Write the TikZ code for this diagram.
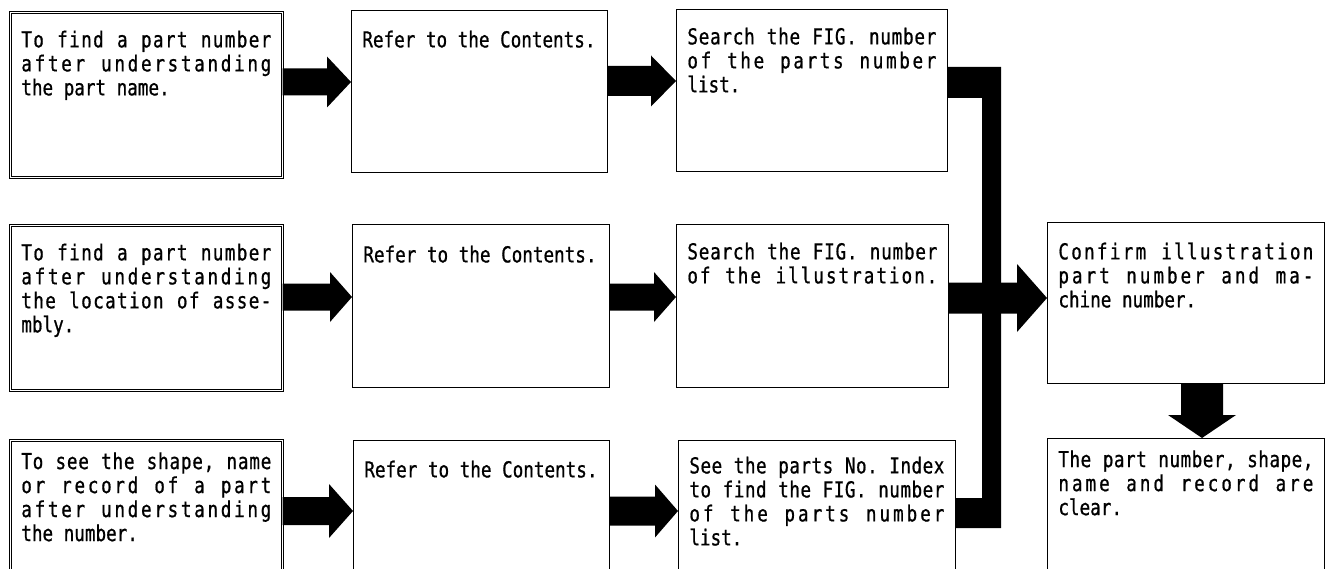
\documentclass[tikz,border=0pt]{standalone}
\usepackage{fontspec}
\newfontfamily\gfont[FakeStretch=0.8,FakeBold=0.8]{DejaVu Sans Mono}
\usetikzlibrary{calc}
\tikzset{
  flowbox/.style={draw, line width=0.8bp, inner xsep=11bp, inner ysep=12bp, anchor=north west, fill=white},
  dblbox/.style={flowbox, double, double distance=1.6bp, line width=0.7bp},
  fat/.style={fill=black},
}
\ExplSyntaxOn
\NewDocumentCommand\spr{m}{\tl_map_inline:nn {#1} {##1\hfill}\unskip}
\ExplSyntaxOff
% box text: #1 text width, #2 text height, #3 justify width, #4 lines
\newcommand\bt[4]{\parbox[t][#2bp][t]{#1bp}{\gfont\fontsize{22bp}{24bp}\selectfont\def\jw{#3bp}#4}}
% natural lines (first with strut height #1) and justified lines
\newcommand\Fl[2]{\hbox to \jw{\rule{0pt}{#1bp}#2\hfil}}
\newcommand\Ln[1]{\hbox to \jw{#1\hfil}}
\newcommand\FJ[2]{\hbox to \jw{\rule{0pt}{#1bp}\spr{#2}}}
\newcommand\J[1]{\hbox to \jw{\spr{#1}}}
% fat horizontal arrow: from, to, y, shaft half, head half, head length
\newcommand\harr[6]{%
  \coordinate (hy) at (0,#3);
  \path (#1.east |- hy) coordinate (s) (#2.west |- hy) coordinate (t);
  \fill[fat] ($(s)+(0,-#4)$) -- ($(t)+(-#6,-#4)$) -- ($(t)+(-#6,-#5)$) -- (t)
    -- ($(t)+(-#6,#5)$) -- ($(t)+(-#6,#4)$) -- ($(s)+(0,#4)$) -- cycle;}
\begin{document}
\begin{tikzpicture}[x=1bp,y=-1bp]
\useasboundingbox (0,0) rectangle (1333,569);
\clip (0,0) rectangle (1333,569);
\fill[white] (0,0) rectangle (1333,569);

% row 1
\node[dblbox] (A1) at (10,12) {\bt{255}{141}{250}{%
  \FJ{23}{To~find~a~part~number}%
  \J{after~understanding}%
  \Ln{the part name.}}};
\node[flowbox] (B1) at (351,10) {\bt{234}{138}{234}{%
  \Fl{25}{Refer to the Contents.}}};
\node[flowbox] (C1) at (676,9) {\bt{257}{138}{249}{%
  \FJ{23}{Search~the~FIG.~number}%
  \J{of~the~parts~number}%
  \Ln{list.}}};

% row 2
\node[dblbox] (A2) at (10,225) {\bt{255}{141}{250}{%
  \FJ{23}{To~find~a~part~number}%
  \J{after~understanding}%
  \J{the~location~of~asse-}%
  \Ln{mbly.}}};
\node[flowbox] (B2) at (352,224) {\bt{235}{139}{235}{%
  \Fl{26}{Refer to the Contents.}}};
\node[flowbox] (C2) at (676,224) {\bt{258}{139}{250}{%
  \FJ{23}{Search~the~FIG.~number}%
  \J{of~the~illustration.}}};
\node[flowbox] (D1) at (1047,222) {\bt{256}{137}{255}{%
  \FJ{25}{Confirm~illustration}%
  \J{part~number~and~ma-}%
  \Ln{chine number.}}};

% row 3
\node[dblbox] (A3) at (10,440) {\bt{255}{146}{250}{%
  \FJ{15}{To~see~the~shape,~name}%
  \J{or~record~of~a~part}%
  \J{after~understanding}%
  \Ln{the number.}}};
\node[flowbox] (B3) at (353,440) {\bt{234}{146}{234}{%
  \Fl{25}{Refer to the Contents.}}};
\node[flowbox] (C3) at (678,440) {\bt{258}{146}{255}{%
  \FJ{21}{See~the~parts~No.~Index}%
  \J{to~find~the~FIG.~number}%
  \J{of~the~parts~number}%
  \Ln{list.}}};
\node[flowbox] (D2) at (1047,438) {\bt{256}{146}{255}{%
  \FJ{15}{The~part~number,~shape,}%
  \J{name~and~record~are}%
  \Ln{clear.}}};

% horizontal fat arrows
\harr{A1}{B1}{82}{13.5}{25.5}{24}
\harr{B1}{C1}{81}{15}{25.5}{25}
\harr{A2}{B2}{297}{13.5}{25}{22}
\harr{B2}{C2}{297}{13.5}{25}{22}
\harr{A3}{B3}{511}{14}{27}{24}
\harr{B3}{C3}{511}{14.5}{26.5}{23}

% collecting bus from C1 and C3
\coordinate (bl) at (982,0);
\coordinate (br) at (1001,0);
\coordinate (ty1) at (0,67);
\coordinate (ty2) at (0,98);
\coordinate (by1) at (0,498);
\coordinate (by2) at (0,528);
\fill[fat] (C1.east |- ty1) -- (br |- ty1) -- (br |- by2) -- (C3.east |- by2)
  -- (C3.east |- by1) -- (bl |- by1) -- (bl |- ty2) -- (C1.east |- ty2) -- cycle;

% arrow into D1
\harr{C2}{D1}{298}{15.5}{34}{30}

% down arrow D1 -> D2
\coordinate (dx) at (1202,0);
\path (D1.south -| dx) coordinate (ds) (D2.north -| dx) coordinate (dt);
\fill[fat] ($(ds)+(-21,0)$) -- ($(dt)+(-21,-23)$) -- ($(dt)+(-34,-23)$) -- (dt)
  -- ($(dt)+(34,-23)$) -- ($(dt)+(21,-23)$) -- ($(ds)+(21,0)$) -- cycle;
\end{tikzpicture}
\end{document}
